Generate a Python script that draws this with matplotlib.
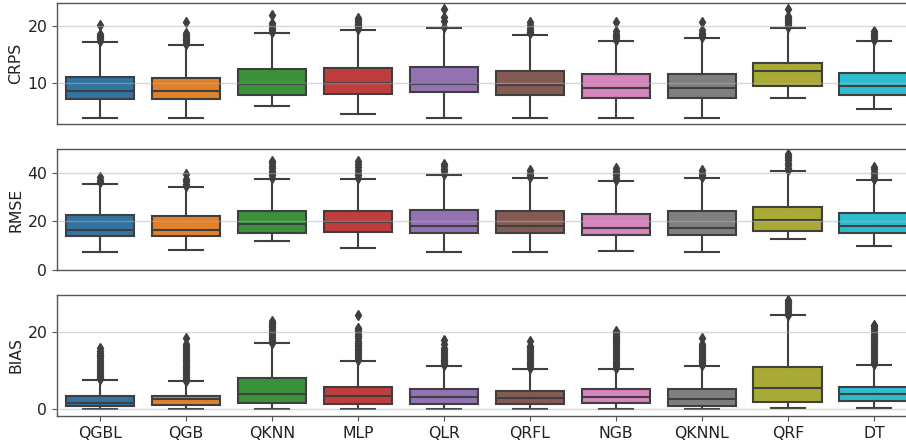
import matplotlib
matplotlib.use('Agg')
import matplotlib.pyplot as plt

# 模型名称
models = ['QGBL', 'QGB', 'QKNN', 'MLP', 'QLR', 'QRFL', 'NGB', 'QKNNL', 'QRF', 'DT']

# 颜色（seaborn 默认调色板，饱和度 0.75）
palette = ['#3274a1', '#e1812c', '#3a923a', '#c03d3e', '#9372b2',
           '#845b53', '#d684bd', '#7f7f7f', '#a9aa35', '#2ebdcd']
edge_gray = '#3f3f3f'

# ---- CRPS：箱线图统计量----
crps_q1 = [7.2, 7.2, 8.0, 8.2, 8.4, 8.0, 7.5, 7.5, 9.5, 7.9]
crps_med = [8.7, 8.7, 9.9, 10.1, 9.9, 9.7, 9.2, 9.2, 12.1, 9.6]
crps_q3 = [11.1, 11.0, 12.5, 12.7, 12.9, 12.2, 11.7, 11.7, 13.6, 11.8]
crps_lo = [3.9, 4.0, 6.1, 4.6, 4.0, 4.0, 4.0, 3.9, 7.5, 5.6]
crps_hi = [17.2, 16.7, 18.8, 19.3, 19.7, 18.5, 17.4, 17.9, 19.7, 17.4]
crps_fliers = [
    [17.4, 17.7, 18.0, 18.3, 18.6, 20.2],
    [16.9, 17.2, 17.5, 17.8, 18.1, 18.4, 18.7, 20.7],
    [19.0, 19.3, 19.7, 20.1, 20.5, 21.9],
    [19.5, 19.8, 20.1, 20.4, 20.7, 21.0, 21.3],
    [19.9, 20.8, 21.5, 22.9],
    [18.7, 19.0, 19.3, 19.7, 20.1, 20.7],
    [17.6, 17.9, 18.2, 18.6, 19.1, 20.7],
    [18.1, 18.4, 18.7, 19.3, 20.6],
    [19.9, 20.2, 20.5, 20.8, 21.1, 21.4, 21.7, 23.0],
    [17.6, 17.9, 18.2, 18.5, 18.8, 19.1],
]

# ---- RMSE ----
rmse_q1 = [13.8, 13.8, 15.0, 15.4, 15.1, 15.1, 14.4, 14.4, 16.2, 15.1]
rmse_med = [16.6, 16.6, 18.9, 19.9, 18.1, 18.2, 17.4, 17.3, 20.6, 18.2]
rmse_q3 = [22.7, 22.3, 24.2, 24.2, 24.8, 24.2, 23.0, 24.2, 26.0, 23.4]
rmse_lo = [7.5, 8.0, 12.1, 9.1, 7.5, 7.5, 7.9, 7.5, 12.9, 9.7]
rmse_hi = [35.4, 34.2, 37.4, 37.4, 39.1, 37.7, 36.6, 37.7, 40.7, 37.0]
rmse_fliers = [
    [36.0, 37.0, 38.0],
    [34.6, 35.5, 36.4, 37.3, 39.5],
    [37.8, 38.8, 39.8, 40.8, 41.8, 42.8, 43.8, 44.8],
    [37.8, 38.8, 39.8, 41.0, 42.2, 43.4, 44.6],
    [39.5, 40.5, 41.5, 42.5, 43.4],
    [38.1, 39.0, 40.0, 41.0],
    [36.8, 37.8, 38.8, 39.8, 40.8, 41.7],
    [38.0, 39.0, 40.0, 41.2],
    [41.0, 42.0, 43.0, 44.0, 45.0, 46.0, 47.0, 47.6],
    [37.3, 38.3, 39.3, 40.3, 41.3, 42.2],
]

# ---- BIAS ----
bias_q1 = [0.8, 1.0, 1.5, 1.2, 1.2, 1.3, 1.5, 0.9, 1.8, 2.1]
bias_med = [1.7, 2.5, 3.8, 3.4, 3.2, 2.9, 3.2, 2.7, 5.6, 3.8]
bias_q3 = [3.4, 3.4, 8.0, 5.8, 5.2, 4.8, 5.3, 5.3, 10.9, 5.8]
bias_lo = [0.0, 0.1, 0.1, 0.1, 0.1, 0.1, 0.1, 0.0, 0.2, 0.2]
bias_hi = [7.5, 7.2, 17.1, 12.5, 11.2, 10.4, 10.4, 11.2, 24.4, 11.4]
bias_fliers = [
    [7.7, 8.2, 8.7, 9.2, 9.7, 10.2, 10.7, 11.2, 11.7, 12.2, 12.7, 13.2,
     13.7, 14.2, 14.7, 15.2, 15.9],
    [7.4, 7.9, 8.4, 8.9, 9.4, 9.9, 10.4, 10.9, 11.4, 11.9, 12.4, 12.9,
     13.4, 13.9, 14.4, 14.9, 15.4, 15.9, 16.4, 17.0, 18.6],
    [17.3, 17.8, 18.3, 18.8, 19.3, 19.8, 20.3, 20.8, 21.3, 21.8, 22.3, 22.8],
    [12.8, 13.3, 13.8, 14.3, 14.8, 15.3, 15.8, 16.3, 16.8, 17.3, 17.8,
     18.4, 19.0, 19.6, 20.2, 20.8, 21.2, 24.4],
    [11.4, 11.9, 12.4, 12.9, 13.4, 13.9, 14.4, 14.9, 15.4, 16.0, 17.0, 18.1],
    [10.6, 11.1, 11.6, 12.1, 12.6, 13.1, 13.6, 14.1, 14.6, 15.1, 15.6,
     16.1, 16.5, 17.6],
    [10.6, 11.1, 11.6, 12.1, 12.6, 13.1, 13.6, 14.1, 14.6, 15.1, 15.6,
     16.1, 16.6, 17.1, 17.6, 18.1, 18.6, 19.1, 19.6, 20.0, 20.4],
    [11.4, 11.9, 12.4, 12.9, 13.4, 13.9, 14.4, 14.9, 15.4, 15.9, 16.4,
     17.0, 18.5],
    [24.6, 25.1, 25.6, 26.1, 26.6, 27.1, 27.6, 28.0, 28.3],
    [11.6, 12.1, 12.6, 13.1, 13.6, 14.1, 14.6, 15.1, 15.6, 16.1, 16.6,
     17.1, 17.6, 18.1, 18.6, 19.1, 19.6, 20.1, 20.6, 21.1, 21.6, 21.8],
]

panels = [
    ('CRPS', crps_q1, crps_med, crps_q3, crps_lo, crps_hi, crps_fliers, (2.9, 24.0), [10, 20]),
    ('RMSE', rmse_q1, rmse_med, rmse_q3, rmse_lo, rmse_hi, rmse_fliers, (0, 49.7), [0, 20, 40]),
    ('BIAS', bias_q1, bias_med, bias_q3, bias_lo, bias_hi, bias_fliers, (-1.8, 29.7), [0, 20]),
]

plt.rcParams['font.family'] = 'DejaVu Sans'
plt.rcParams['font.size'] = 11.3

fig = plt.figure(figsize=(9.06, 4.45), dpi=100)
# 原图右侧被裁掉，坐标轴延伸出画布
axes_rects = [
    [0.0629, 0.7213, 0.9491, 0.272],
    [0.0629, 0.3933, 0.9491, 0.272],
    [0.0629, 0.0652, 0.9491, 0.272],
]

for k, (name, q1, med, q3, lo, hi, fl, ylim, yticks) in enumerate(panels):
    ax = fig.add_axes(axes_rects[k])
    stats = []
    for i in range(len(models)):
        stats.append({'q1': q1[i], 'med': med[i], 'q3': q3[i],
                      'whislo': lo[i], 'whishi': hi[i], 'fliers': fl[i]})
    bp = ax.bxp(stats, positions=range(len(models)), widths=0.8,
                patch_artist=True, showfliers=True,
                boxprops=dict(edgecolor=edge_gray, linewidth=1.5),
                medianprops=dict(color=edge_gray, linewidth=1.5),
                whiskerprops=dict(color=edge_gray, linewidth=1.5),
                capprops=dict(color=edge_gray, linewidth=1.5),
                flierprops=dict(marker='d', markerfacecolor=edge_gray,
                                markeredgecolor=edge_gray, markersize=5,
                                linestyle='none'))
    for patch, c in zip(bp['boxes'], palette):
        patch.set_facecolor(c)

    ax.set_xlim(-0.5, len(models) - 0.5)
    ax.set_ylim(*ylim)
    ax.set_yticks(yticks)
    ax.set_ylabel(name, color='#222222', labelpad=3)
    ax.set_axisbelow(False)
    ax.yaxis.grid(True, color='#b0b0b0', alpha=0.5, linewidth=1.0)
    for sp in ax.spines.values():
        sp.set_color('#555555')
        sp.set_linewidth(1.0)
    ax.tick_params(colors='#555555', labelcolor='#222222')
    if k < 2:
        ax.tick_params(axis='x', bottom=False, labelbottom=False)
    else:
        ax.set_xticks(range(len(models)))
        ax.set_xticklabels(models)

fig.savefig('out.png', dpi=100)
